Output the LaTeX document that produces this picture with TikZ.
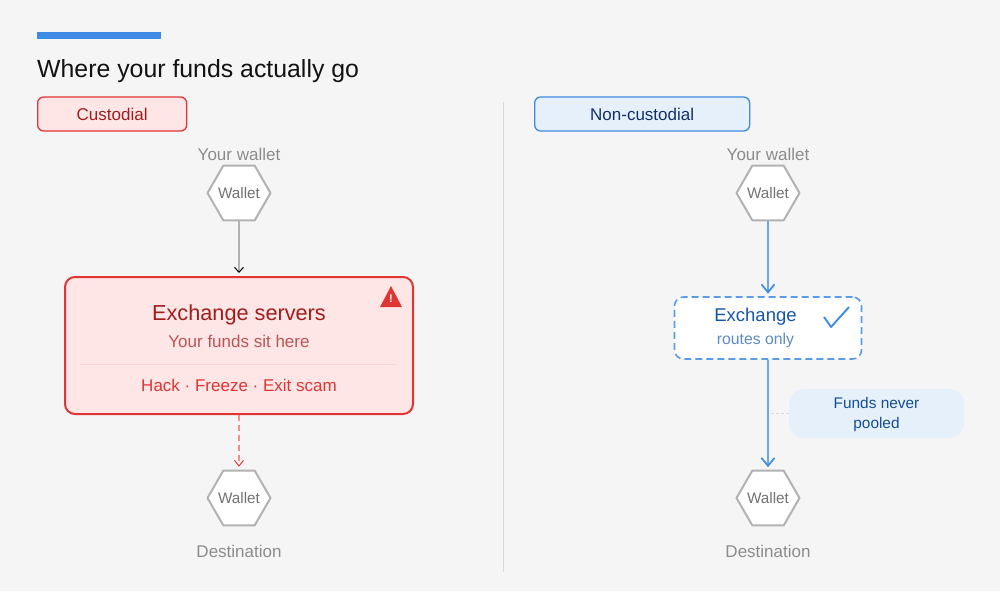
\documentclass[tikz,border=0pt]{standalone}
\usepackage{fontspec}
\setmainfont{Liberation Sans}
\usetikzlibrary{arrows.meta,shapes.geometric}
\definecolor{PageGrey}{HTML}{F5F5F5}
\definecolor{BarBlue}{HTML}{3D8BE5}
\definecolor{LineBlue}{HTML}{6FA5E6}
\definecolor{SoftBlue}{HTML}{E5F0FB}
\definecolor{AlertRed}{HTML}{E03535}
\definecolor{SoftRed}{HTML}{FFE6E6}
\definecolor{DarkRed}{HTML}{A31C1C}
\definecolor{InkBlue}{HTML}{1557A6}
\definecolor{NavyBlue}{HTML}{12306E}
\newcommand{\fs}[1]{\fontsize{#1}{#1}\selectfont}
\newcommand{\hexlabel}{\makebox[0pt]{\raisebox{-5.4pt}[0pt][0pt]{Wallet}}}

\begin{document}
\begin{tikzpicture}[x=1pt, y=-1pt, line join=round,
		Hex/.style={draw=black!30, line width=2pt, fill=white, regular polygon, regular polygon sides=6, minimum size=63pt, inner sep=0pt, text=black!55, font=\fs{15.3}},
		Cap/.style={text=black!45, font=\fs{17}},
		Tag/.style={draw=#1, line width=1.3pt, rounded corners=6pt, minimum height=34pt, anchor=west, inner sep=0pt, font=\fs{17}},
		Pfeil/.style={line width=2pt, draw=LineBlue, arrows={-Straight Barb[BarBlue, length=8pt, width=13pt, line width=1.7pt]}, shorten >=2.5pt}]
	\useasboundingbox[fill=PageGrey] (0,0) rectangle (1000,591);
	\node[fill=BarBlue, minimum width=124pt, minimum height=7pt, inner sep=0pt] (bar) at (99,35.5) {};
	\node[anchor=west, inner sep=0pt, text=black!93, font=\fs{24.85}] (title) at (37,71.5) {Where your funds actually go};
	\coordinate (rule top) at (503.5,102);
	\coordinate (rule end) at (503.5,572);
	\draw[black!15, line width=1.2pt] (rule top) -- (rule end);

	% custodial side
	\node[Tag=AlertRed, fill=SoftRed, text=DarkRed, minimum width=149pt] (tag1) at (37,114) {\raisebox{-1pt}{Custodial}};
	\node[Cap] (cap1) at (239,154.5) {Your wallet};
	\node[Hex] (w1) at (239,193) {\hexlabel};
	\node[draw=AlertRed, line width=2pt, fill=SoftRed, rounded corners=10pt, minimum width=348pt, minimum height=137pt, inner sep=0pt] (srv) at (239,345.5) {};
	\node[text=DarkRed, font=\fs{21.7}] (srv1) at (239,314.5) {Exchange servers};
	\node[text=DarkRed!75, font=\fs{17}] (srv2) at (239,341.5) {Your funds sit here};
	\coordinate (cut1) at (80,364);
	\coordinate (cut2) at (397,364);
	\draw[AlertRed!20, line width=1pt] (cut1) -- (cut2);
	\node[text=AlertRed, font=\fs{17}] (srv3) at (239,385) {Hack · Freeze · Exit scam};
	\fill[AlertRed] (380,307) -- (391,286) -- (402,307) -- cycle;
	\node[text=white, font=\bfseries\fs{11}, inner sep=0pt] (warn) at (391,299) {!};
	\node[Hex] (w2) at (239,498) {\hexlabel};
	\node[Cap] (cap2) at (239,551) {Destination};
	\draw[black!30, line width=1.6pt, arrows={-Straight Barb[black, length=5pt, width=9pt, line width=1pt]}, shorten >=3pt] (w1) -- (srv);
	\draw[AlertRed!55, line width=1.3pt, dash pattern=on 6pt off 4pt, arrows={-Straight Barb[AlertRed, length=5.5pt, width=9pt, line width=1pt]}, shorten >=3pt] (srv) -- (w2);

	% non-custodial side
	\node[Tag=BarBlue, fill=SoftBlue, text=NavyBlue, minimum width=215pt] (tag2) at (534,114) {\raisebox{-1pt}{Non-custodial}};
	\node[Cap] (cap3) at (768,154.5) {Your wallet};
	\node[Hex] (w3) at (768,193) {\hexlabel};
	\node[draw=BarBlue!85, line width=1.6pt, dash pattern=on 7pt off 4pt, fill=white, rounded corners=9pt, minimum width=187pt, minimum height=62pt, inner sep=0pt] (exch) at (768,328) {};
	\node[text=InkBlue, font=\fs{18.5}] (exch1) at (755.5,317) {Exchange};
	\node[text=LineBlue!85!black, font=\fs{15.8}] (exch2) at (755.5,340.5) {routes only};
	\draw[BarBlue, line width=1.9pt] (824,317) -- (831,327) -- (849,307);
	\node[Hex] (w4) at (768,498) {\hexlabel};
	\node[Cap] (cap4) at (768,551) {Destination};
	\node[fill=SoftBlue, rounded corners=15pt, minimum width=175pt, minimum height=49pt, inner sep=0pt] (note) at (876.5,413.5) {};
	\node[align=center, inner sep=0pt, text=InkBlue!90!black, font=\fs{15.4}] (note1) at (876.5,414.5) {Funds never\\[4pt]pooled};
	\coordinate (stem) at (768,413.5);
	\draw[black!15, line width=1pt, dash pattern=on 3pt off 2pt] (note) -- (stem);
	\draw[Pfeil] (w3) -- (exch);
	\draw[Pfeil] (exch) -- (w4);
\end{tikzpicture}
\end{document}
